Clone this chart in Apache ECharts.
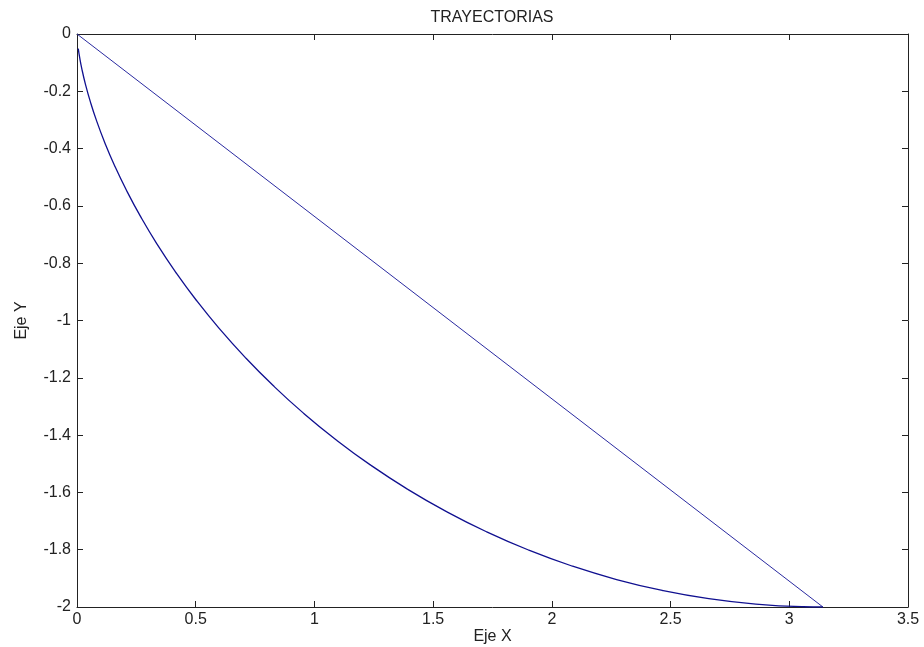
<!DOCTYPE html>
<html>
<head>
<meta charset="utf-8">
<script src="https://cdn.jsdelivr.net/npm/echarts@6/dist/echarts.min.js"></script>
<style>
  html, body { margin: 0; padding: 0; background: #fff; }
  #chart { width: 924px; height: 647px; }
</style>
</head>
<body>
<div id="chart"></div>
<script>
// cycloid-like path
const curveX = [0.0054, 0.0106, 0.0206, 0.0354, 0.0558, 0.0826, 0.1167, 0.1585, 0.2088, 0.268,
  0.3364, 0.4146, 0.5025, 0.6004, 0.7083, 0.8262, 0.9537, 1.0907, 1.2368, 1.3915,
  1.5543, 1.7245, 1.9015, 2.0845, 2.2726, 2.465, 2.6608, 2.8589, 3.0584, 3.1416]
const curveY = [-0.0508, -0.0789, -0.1224, -0.1747, -0.2352, -0.3033, -0.3784, -0.4597, -0.5464, -0.6376,
  -0.7325, -0.83, -0.9293, -1.0292, -1.1288, -1.2272, -1.3233, -1.4161, -1.5048, -1.5885,
  -1.6663, -1.7374, -1.8011, -1.8569, -1.9041, -1.9422, -1.971, -1.99, -1.9991, -2]
// straight path
const lineX = [0, 3.1416]
const lineY = [0, -2]

const FONT = "'Liberation Sans', Arial, sans-serif"
const INK = '#222'
const FS = 16

const chart = echarts.init(document.getElementById('chart'), null, { renderer: 'canvas' })

const zip = (xs, ys) => xs.map((x, i) => [x, ys[i]])
const fmt = v => String(+v.toFixed(1))

const baseX = {
  type: 'value', min: 0, max: 3.5, interval: 0.5,
  axisLine: { onZero: false, lineStyle: { color: INK, width: 1 } },
  axisTick: { inside: true, length: 6, lineStyle: { color: INK } },
  splitLine: { show: false },
}
const baseY = {
  type: 'value', min: -2, max: 0, interval: 0.2,
  axisLine: { onZero: false, lineStyle: { color: INK, width: 1 } },
  axisTick: { inside: true, length: 6, lineStyle: { color: INK } },
  splitLine: { show: false },
}

chart.setOption({
  animation: false,
  textStyle: { fontFamily: FONT },
  graphic: [{
    type: 'text', x: 492, y: 10,
    style: { text: 'TRAYECTORIAS', align: 'center', fontFamily: FONT, fontSize: FS, fill: INK },
  }],
  grid: { left: 77, top: 34, right: 16, bottom: 40, containLabel: false, outerBoundsMode: 'none' },
  xAxis: [
    { ...baseX, position: 'bottom',
      name: 'Eje X', nameLocation: 'middle', nameGap: 22, nameMoveOverlap: false,
      nameTextStyle: { fontSize: FS, color: INK },
      axisLabel: { fontSize: FS, color: INK, margin: 5, formatter: fmt } },
    { ...baseX, position: 'top', axisLabel: { show: false } },
  ],
  yAxis: [
    { ...baseY, position: 'left',
      name: 'Eje Y', nameLocation: 'middle', nameGap: 47, nameMoveOverlap: false,
      nameTextStyle: { fontSize: FS, color: INK },
      axisLabel: { fontSize: FS, color: INK, margin: 6, formatter: fmt } },
    { ...baseY, position: 'right', axisLabel: { show: false } },
  ],
  series: [
    {
      type: 'line', data: zip(lineX, lineY), showSymbol: false, smooth: false,
      lineStyle: { color: '#2a2aa0', width: 1 },
    },
    {
      type: 'line', data: zip(curveX, curveY), showSymbol: false, smooth: true,
      lineStyle: { color: '#101090', width: 1.3 },
    },
  ],
})
</script>
</body>
</html>
